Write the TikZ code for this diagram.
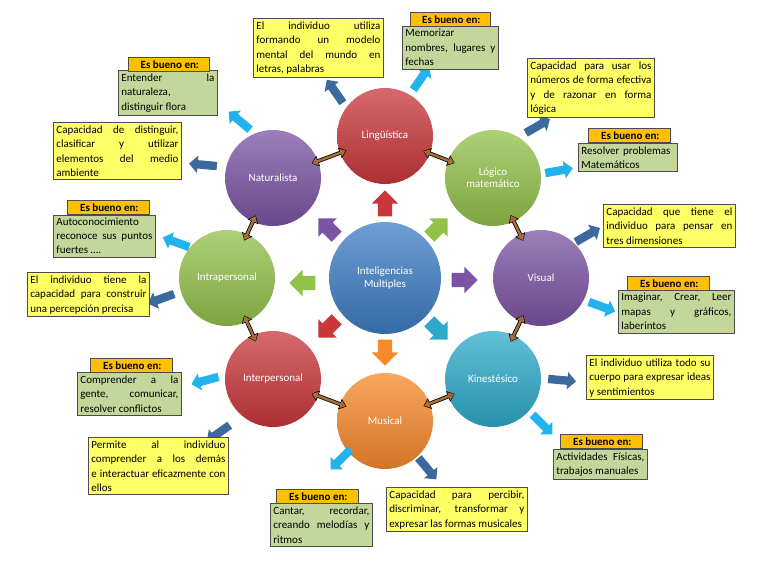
\documentclass[tikz,border=0pt]{standalone}
\usepackage{fontspec}
\setmainfont{Carlito}
\usetikzlibrary{shapes.arrows,arrows.meta}
\definecolor{cred}{HTML}{C9373B}\definecolor{cgreen}{HTML}{92C14A}
\definecolor{cpurple}{HTML}{7B54A3}\definecolor{cblue}{HTML}{3E7DC4}
\definecolor{cteal}{HTML}{2DAAC9}\definecolor{corange}{HTML}{F7892B}
\definecolor{lblue}{HTML}{22B3EC}\definecolor{dblue}{HTML}{3C6A9C}
\definecolor{yb}{HTML}{FFFF66}\definecolor{gb}{HTML}{C4D79B}\definecolor{hb}{HTML}{FFC000}
\definecolor{dbl}{HTML}{A8703A}
\hyphenpenalty=10000 \exhyphenpenalty=10000
\begin{document}
\begin{tikzpicture}[x=1pt,y=-1pt,
 circ/.style={circle,minimum size=96pt,inner sep=0pt,text=white,font=\fontsize{11}{12.5}\selectfont,align=center,top color=#1!75!white,bottom color=#1!85!black,draw=none},
 box/.style={draw=black!70,line width=0.8pt,inner sep=3pt,font=\fontsize{11}{14.5}\selectfont,align=justify,anchor=north west},
 yel/.style={box,fill=yb},
 grn/.style={box,fill=gb},
 hdr/.style={draw=black!70,line width=0.8pt,fill=hb,inner sep=1pt,font=\bfseries\fontsize{11}{11}\selectfont,anchor=north west,minimum height=14pt},
 big/.style={single arrow,fill=#1,draw=none,minimum height=26pt,inner sep=7pt,single arrow head extend=6pt},
 sat/.style={single arrow,fill=#1,draw=none,minimum height=28pt,inner sep=4pt,single arrow head extend=4.5pt},
 dbl/.style={draw=black,line width=4pt,{Triangle[length=7pt,width=11pt]}-{Triangle[length=7pt,width=11pt]},shorten <=-7pt,shorten >=-7pt,
   postaction={draw=dbl,line width=2.4pt,{Triangle[length=5.5pt,width=8pt,fill=cred]}-{Triangle[length=5.5pt,width=8pt]},shorten <=-6.2pt,shorten >=-6.2pt}}]
\useasboundingbox (0,0) rectangle (762,564);
% circles
\node[circ=cblue,minimum size=112pt] (c) at (385,278) {Inteligencias\\Multiples};
\node[circ=cred] (l) at (385,136) {Lingüística};
\node[circ=cgreen] (m) at (493,178) {Lógico\\matemático};
\node[circ=cpurple] (v) at (541,278) {Visual};
\node[circ=cteal] (k) at (493,379) {Kinestésico};
\node[circ=corange] (mu) at (385,421) {Musical};
\node[circ=cred] (ip) at (273,379) {Interpersonal};
\node[circ=cgreen] (ia) at (227,278) {Intrapersonal};
\node[circ=cpurple] (n) at (273,178) {Naturalista};
% double connectors
\draw[dbl] (n) -- (l); \draw[dbl] (l) -- (m); \draw[dbl] (m) -- (v); \draw[dbl] (v) -- (k);
\draw[dbl] (k) -- (mu); \draw[dbl] (mu) -- (ip); \draw[dbl] (ip) -- (ia); \draw[dbl] (ia) -- (n);
% center arrows
\node[big=cred,rotate=90] (a1) at (385,207) {};
\node[big=cgreen,rotate=45] (a2) at (436,230) {};
\node[big=cpurple,rotate=0] (a3) at (461,280) {};
\node[big=cteal,rotate=-45] (a4) at (436,328) {};
\node[big=corange,rotate=-90] (a5) at (385,349) {};
\node[big=cred,rotate=-135] (a6) at (330,326) {};
\node[big=cgreen,rotate=180] (a7) at (306,283) {};
\node[big=cpurple,rotate=135] (a8) at (330,230) {};
% satellite arrows
\node[sat=dblue,rotate=125] (s1) at (336,93) {};
\node[sat=lblue,rotate=55] (s2) at (420,80) {};
\node[sat=lblue,rotate=140] (s3) at (241,122) {};
\node[sat=dblue,rotate=175] (s4) at (205,165) {};
\node[sat=lblue,rotate=160] (s5) at (178,243) {};
\node[sat=dblue,rotate=200] (s6) at (163,298) {};
\node[sat=lblue,rotate=195] (s7) at (207,380) {};
\node[sat=dblue,rotate=215] (s8) at (220,432) {};
\node[sat=lblue,rotate=225] (s9) at (342,458) {};
\node[sat=dblue,rotate=-50] (s10) at (426,467) {};
\node[sat=dblue,rotate=-5] (s11) at (560,380) {};
\node[sat=lblue,rotate=-45] (s12) at (541,423) {};
\node[sat=dblue,rotate=30] (s13) at (586,236) {};
\node[sat=lblue,rotate=-20] (s14) at (600,306) {};
\node[sat=dblue,rotate=30] (s15) at (536,127) {};
\node[sat=lblue,rotate=10] (s16) at (557,171) {};
% boxes
\node[yel,text width=124pt] (b1) at (253,18) {El individuo utiliza formando un modelo mental del mundo en letras, palabras};
\node[grn,text width=90pt] (b2) at (402,26) {Memorizar nombres, lugares y fechas};
\node[hdr,minimum width=80pt] (h2) at (410,12) {\,Es bueno en:};
\node[grn,text width=93pt] (b3) at (118,70) {Entender la naturaleza, distinguir flora};
\node[hdr,minimum width=81pt] (h3) at (128,57) {\,Es bueno en:};
\node[yel,text width=122pt] (b4) at (53,122) {Capacidad de distinguir, clasificar y utilizar elementos del medio ambiente};
\node[grn,text width=96pt,font=\fontsize{11}{14}\selectfont] (b5) at (53,215) {Autoconocimiento reconoce sus puntos fuertes ….};
\node[hdr,minimum width=82pt] (h5) at (67,200) {\,Es bueno en:};
\node[yel,text width=116pt] (b6) at (27,272) {El individuo tiene la capacidad para construir una percepción precisa};
\node[grn,text width=98pt] (b7) at (77,372) {Comprender a la gente, comunicar, resolver conflictos};
\node[hdr,minimum width=82pt] (h7) at (90,358) {\,Es bueno en:};
\node[yel,text width=134pt] (b8) at (88,437) {Permite al individuo comprender a los demás e interactuar eficazmente con ellos};
\node[grn,text width=96pt] (b9) at (270,503) {Cantar, recordar, creando melodías y ritmos};
\node[hdr,minimum width=82pt] (h9) at (276,489) {\,Es bueno en:};
\node[yel,text width=135pt] (b10) at (386,487) {Capacidad para percibir, discriminar, transformar y expresar las formas musicales};
\node[grn,text width=88pt,font=\fontsize{11}{14}\selectfont] (b11) at (553,449) {Actividades Físicas, trabajos manuales};
\node[hdr,minimum width=82pt] (h11) at (560,434) {\,Es bueno en:};
\node[yel,text width=121pt] (b12) at (586,355) {El individuo utiliza todo su cuerpo para expresar ideas y sentimientos};
\node[grn,text width=110pt] (b13) at (618,290) {Imaginar, Crear, Leer mapas y gráficos, laberintos};
\node[hdr,minimum width=82pt] (h13) at (627,276) {\,Es bueno en:};
\node[yel,text width=126pt] (b14) at (603,204) {Capacidad que tiene el individuo para pensar en tres dimensiones};
\node[grn,text width=93pt,font=\fontsize{11}{14}\selectfont,align=left] (b15) at (578,143) {Resolver problemas Matemáticos};
\node[hdr,minimum width=82pt] (h15) at (588,128) {\,Es bueno en:};
\node[yel,text width=121pt] (b16) at (527,58) {Capacidad para usar los números de forma efectiva y de razonar en forma lógica};
\end{tikzpicture}
\end{document}
